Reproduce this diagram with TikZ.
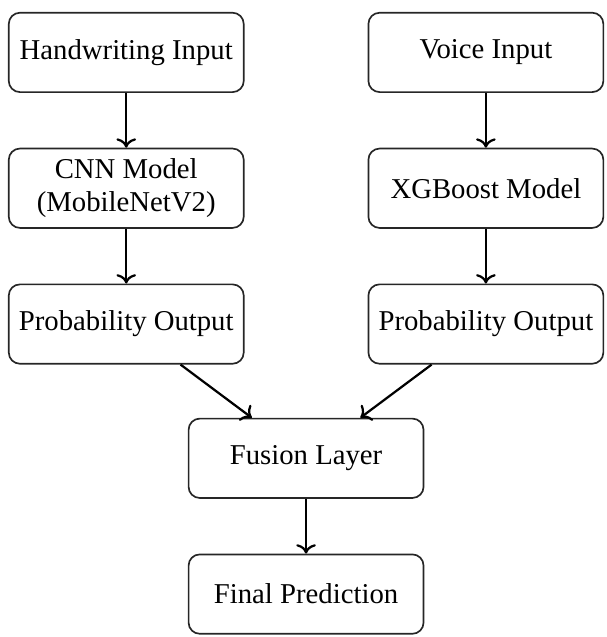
\documentclass[tikz,border=0pt]{standalone}
\usepackage{fontspec}
\setmainfont{Liberation Serif}
\usepackage{tikz}
\usetikzlibrary{positioning,calc,arrows.meta}

\begin{document}
\begin{tikzpicture}[node distance=0.69cm and 1.55cm,
  blk/.style={draw=black!85,semithick,rounded corners=4pt,minimum width=2.96cm,minimum height=1.0cm,inner sep=2pt,align=center,font=\fontsize{10.3}{12}\selectfont},
  arr/.style={->,thick}]
\node[blk] (hw) {Handwriting Input};
\node[blk,right=of hw] (vo) {Voice Input};
\node[blk,below=of hw] (cnn) {CNN Model\\(MobileNetV2)};
\node[blk,below=of vo] (xgb) {XGBoost Model};
\node[blk,below=of cnn] (pl) {Probability Output};
\node[blk,below=of xgb] (pr) {Probability Output};
\coordinate (m) at ($(pl.south)!0.5!(pr.south)$);
\node[blk,below=0.67cm of m] (fus) {Fusion Layer};
\node[blk,below=of fus] (fin) {Final Prediction};
\draw[arr] (hw) -- (cnn);
\draw[arr] (cnn) -- (pl);
\draw[arr] (vo) -- (xgb);
\draw[arr] (xgb) -- (pr);
\draw[arr] (pl) -- (fus);
\draw[arr] (pr) -- (fus);
\draw[arr] (fus) -- (fin);
\useasboundingbox ($(hw.north west)+(-0.1,0.15)$) rectangle ($(vo.east |- fin.south)+(0.03,-0.03)$);
\end{tikzpicture}
\end{document}
